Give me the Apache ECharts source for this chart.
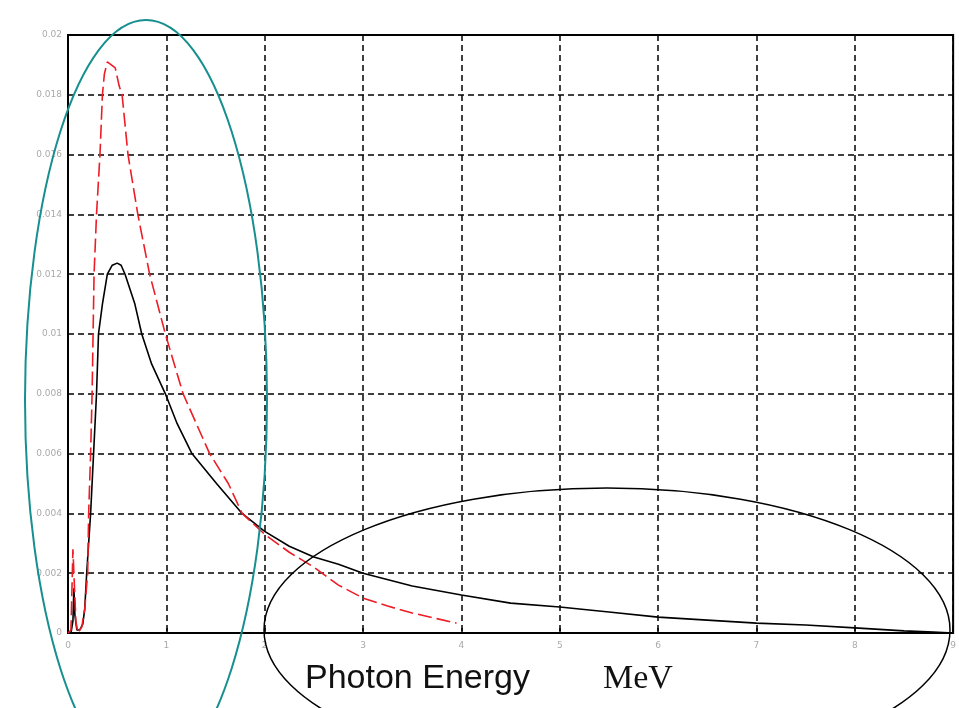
<!DOCTYPE html>
<html>
<head>
<meta charset="utf-8">
<script src="https://cdn.jsdelivr.net/npm/echarts@6/dist/echarts.min.js"></script>
<style>
html,body{margin:0;padding:0;background:#fff;}
#chart{width:959px;height:708px;}
</style>
</head>
<body>
<div id="chart"></div>
<script>
// photon energy (MeV) and spectrum values, black solid curve
var energyBlack=[0,0.03,0.05,0.06,0.07,0.09,0.12,0.15,0.17,0.19,0.21,0.23,0.26,0.29,0.31,0.35,0.40,0.45,0.50,0.54,0.58,0.68,0.75,0.85,0.99,1.11,1.26,1.51,1.77,2.0,2.25,2.5,2.75,3.0,3.5,4.0,4.5,5.0,5.5,6.0,6.5,7.0,7.5,8.0,8.5,8.8,9.0];
var fluxBlack=[0,0,0.0004,0.0015,0.0006,0.0001,0.0001,0.0003,0.0008,0.002,0.003,0.004,0.006,0.008,0.010,0.011,0.012,0.0123,0.01237,0.0123,0.012,0.011,0.010,0.009,0.008,0.007,0.006,0.005,0.004,0.0034,0.0029,0.00254,0.0023,0.002,0.00157,0.00127,0.001,0.00087,0.0007,0.00053,0.00043,0.00033,0.00027,0.00017,0.00007,0.00003,0];
// red dashed curve
var energyRed=[0,0.03,0.05,0.06,0.08,0.10,0.14,0.17,0.20,0.21,0.23,0.245,0.255,0.265,0.29,0.325,0.35,0.37,0.40,0.44,0.48,0.52,0.55,0.61,0.71,0.83,0.99,1.17,1.44,1.63,1.77,2.0,2.25,2.5,2.75,3.0,3.25,3.5,3.75,3.95];
var fluxRed=[0,0.0001,0.0028,0.0028,0.0004,0,0.0002,0.0008,0.002,0.004,0.006,0.008,0.010,0.012,0.014,0.016,0.018,0.0187,0.0191,0.019,0.0189,0.0183,0.018,0.016,0.014,0.012,0.010,0.008,0.006,0.005,0.004,0.0033,0.0027,0.0022,0.0016,0.00117,0.0009,0.00067,0.00048,0.00033];

function pairs(xs,ys){return xs.map(function(x,i){return [x,ys[i]];});}

var chart=echarts.init(document.getElementById("chart"));
var gridLine={show:true,lineStyle:{color:"#000",width:1.5,type:[6,4]}};
var option={
  backgroundColor:"#fff",
  animation:false,
  grid:{left:68,right:5,top:35,bottom:75,show:true,borderColor:"#000",borderWidth:2,backgroundColor:"transparent"},
  xAxis:{type:"value",min:0,max:9,interval:1,
    axisLine:{show:true,lineStyle:{color:"#000",width:2}},
    axisTick:{show:true,inside:true,length:5,lineStyle:{color:"#000",width:1.5}},
    axisLabel:{color:"#aaa",fontSize:9,margin:8,fontFamily:"DejaVu Sans"},
    splitLine:gridLine},
  yAxis:{type:"value",min:0,max:0.02,interval:0.002,
    axisLine:{show:true,lineStyle:{color:"#000",width:2}},
    axisTick:{show:false},
    axisLabel:{color:"#aaa",fontSize:9,margin:6,fontFamily:"DejaVu Sans"},
    splitLine:gridLine},
  series:[
    {type:"line",data:pairs(energyBlack,fluxBlack),showSymbol:false,symbol:"none",
      lineStyle:{color:"#000",width:1.6},z:3},
    {type:"line",data:pairs(energyRed,fluxRed),showSymbol:false,symbol:"none",
      lineStyle:{color:"#ee1c24",width:1.6,type:[14,5]},z:4}
  ],
  graphic:[
    {type:"ellipse",shape:{cx:146,cy:400,rx:121,ry:380},
      style:{fill:"none",stroke:"#178f8f",lineWidth:2},z:10},
    {type:"ellipse",shape:{cx:607,cy:630,rx:343,ry:142},
      style:{fill:"none",stroke:"#000",lineWidth:1.5},z:10},
    {type:"text",left:305,top:662,
      style:{text:"Photon Energy",font:"34px 'Liberation Sans', Arial, sans-serif",fill:"#111"},z:11},
    {type:"text",left:603,top:662,
      style:{text:"MeV",font:"34px 'Liberation Serif', 'Times New Roman', serif",fill:"#111"},z:11}
  ]
};
chart.setOption(option);
window.addEventListener("resize",function(){chart.resize();});
</script>
</body>
</html>
